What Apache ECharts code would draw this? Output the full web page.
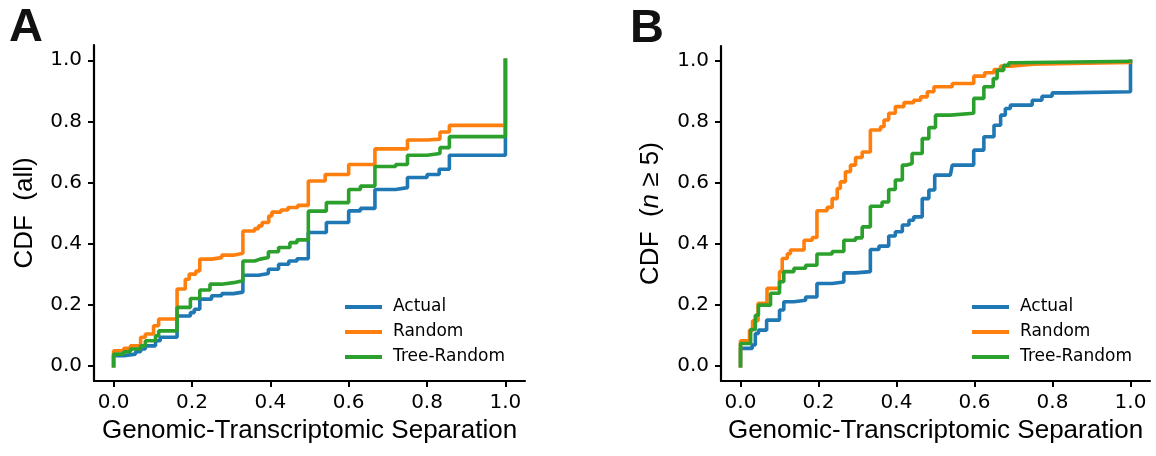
<!DOCTYPE html>
<html>
<head>
<meta charset="utf-8">
<title>CDF of genomic-transcriptomic separation</title>
<script src="https://cdn.jsdelivr.net/npm/echarts@6/dist/echarts.min.js"></script>
<style>
  html, body { margin: 0; padding: 0; background: #fff; }
  #cdfChart { width: 1156px; height: 456px; }
</style>
</head>
<body>
<div id="cdfChart"></div>
<script>
  // tick positions shared by both panels
  var tickValues = [0, 0.2, 0.4, 0.6, 0.8, 1.0];
  var seriesNames = ['Actual', 'Random', 'Tree-Random'];

  // panel A: all, [separation, cdf] step points (value holds to the right)
  var allActual = [[0,0],[0,0.033],[0.026,0.038],[0.056,0.046],[0.069,0.055],[0.081,0.065],[0.107,0.082],[0.119,0.093],
    [0.162,0.163],[0.196,0.174],[0.206,0.185],[0.22,0.218],[0.25,0.229],[0.276,0.236],[0.306,0.241],[0.33,0.296],
    [0.37,0.302],[0.395,0.316],[0.421,0.332],[0.447,0.343],[0.468,0.35],[0.497,0.436],[0.543,0.469],[0.6,0.507],
    [0.63,0.515],[0.667,0.577],[0.72,0.583],[0.75,0.616],[0.8,0.626],[0.831,0.643],[0.857,0.689],[1,1]];
  var allRandom = [[0,0],[0,0.049],[0.026,0.057],[0.043,0.065],[0.069,0.093],[0.081,0.104],[0.102,0.131],[0.115,0.153],
    [0.162,0.251],[0.183,0.283],[0.193,0.3],[0.21,0.31],[0.22,0.349],[0.25,0.354],[0.276,0.362],[0.306,0.368],
    [0.33,0.441],[0.36,0.449],[0.37,0.458],[0.379,0.469],[0.396,0.49],[0.404,0.503],[0.427,0.51],[0.445,0.518],
    [0.47,0.525],[0.497,0.605],[0.54,0.626],[0.6,0.659],[0.667,0.71],[0.75,0.739],[0.8,0.742],[0.833,0.765],
    [0.857,0.787],[1,1]];
  var allTree = [[0,0],[0,0.038],[0.026,0.046],[0.043,0.055],[0.069,0.065],[0.081,0.082],[0.107,0.098],[0.115,0.114],
    [0.162,0.191],[0.196,0.22],[0.22,0.248],[0.246,0.267],[0.276,0.272],[0.306,0.278],[0.33,0.343],[0.36,0.349],
    [0.374,0.354],[0.395,0.373],[0.421,0.387],[0.45,0.403],[0.468,0.412],[0.497,0.506],[0.543,0.534],[0.6,0.577],
    [0.63,0.588],[0.667,0.652],[0.72,0.659],[0.75,0.689],[0.8,0.695],[0.833,0.714],[0.857,0.75],[1,1]];

  // panel B: n >= 5
  var bigActual = [[0,0],[0,0.057],[0.03,0.068],[0.038,0.106],[0.046,0.117],[0.067,0.15],[0.1,0.183],[0.111,0.21],
    [0.137,0.215],[0.167,0.226],[0.196,0.27],[0.235,0.275],[0.265,0.305],[0.295,0.309],[0.333,0.382],[0.355,0.393],
    [0.38,0.426],[0.397,0.44],[0.415,0.462],[0.432,0.478],[0.444,0.489],[0.466,0.549],[0.483,0.577],[0.498,0.626],
    [0.538,0.631],[0.543,0.659],[0.598,0.708],[0.624,0.752],[0.65,0.79],[0.667,0.823],[0.679,0.845],[0.692,0.856],
    [0.748,0.872],[0.773,0.885],[0.799,0.896],[0.833,0.9],[1,1]];
  var bigRandom = [[0,0],[0,0.082],[0.023,0.117],[0.031,0.148],[0.045,0.205],[0.068,0.254],[0.1,0.309],[0.107,0.352],
    [0.12,0.368],[0.128,0.38],[0.163,0.412],[0.184,0.421],[0.196,0.509],[0.222,0.52],[0.235,0.549],[0.248,0.582],
    [0.256,0.604],[0.269,0.637],[0.282,0.659],[0.295,0.684],[0.312,0.702],[0.333,0.774],[0.359,0.785],[0.368,0.807],
    [0.38,0.829],[0.397,0.851],[0.419,0.864],[0.444,0.872],[0.462,0.883],[0.479,0.9],[0.496,0.916],[0.543,0.927],
    [0.598,0.951],[0.626,0.962],[0.65,0.973],[0.667,0.984],[0.692,0.99],[0.75,0.993],[0.85,0.996],[1,1]];
  var bigTree = [[0,0],[0,0.073],[0.026,0.119],[0.038,0.166],[0.046,0.199],[0.077,0.238],[0.1,0.276],[0.111,0.309],
    [0.137,0.32],[0.167,0.33],[0.196,0.367],[0.235,0.375],[0.265,0.412],[0.295,0.42],[0.312,0.456],[0.333,0.524],
    [0.363,0.538],[0.38,0.579],[0.397,0.61],[0.415,0.659],[0.427,0.664],[0.44,0.697],[0.466,0.746],[0.483,0.782],
    [0.5,0.823],[0.538,0.829],[0.598,0.878],[0.624,0.916],[0.648,0.943],[0.658,0.97],[0.675,0.987],[0.688,0.995],
    [0.7,1],[1,1]];

  var colors = ['#1f77b4', '#ff7f0e', '#2ca02c'];
  var tickFont = 'DejaVu Sans';
  var labelFont = '"Liberation Sans", Arial, Helvetica, sans-serif';

  function makeX(idx) {
    return {
      type: 'value', gridIndex: idx, min: -0.05, max: 1.05,
      name: 'Genomic-Transcriptomic Separation', nameLocation: 'middle', nameGap: 35,
      nameTextStyle: { fontFamily: labelFont, fontSize: 26, color: '#000' },
      splitLine: { show: false },
      axisLine: { onZero: false, lineStyle: { color: '#000', width: 2.2 } },
      axisTick: { customValues: tickValues, length: 6, lineStyle: { color: '#000', width: 2 } },
      axisLabel: { customValues: tickValues, margin: 12, fontFamily: tickFont, fontSize: 20, color: '#000',
        formatter: function (v) { return v.toFixed(1); } }
    };
  }

  function makeY(idx, name, gap) {
    return {
      type: 'value', gridIndex: idx, min: -0.05, max: 1.05,
      name: name, nameLocation: 'middle', nameGap: gap,
      nameTextStyle: { fontFamily: labelFont, fontSize: 26, color: '#000',
        rich: { i: { fontFamily: labelFont, fontSize: 26, fontStyle: 'italic', color: '#000' } } },
      splitLine: { show: false },
      axisLine: { onZero: false, lineStyle: { color: '#000', width: 2.2 } },
      axisTick: { customValues: tickValues, length: 6, lineStyle: { color: '#000', width: 2 } },
      axisLabel: { customValues: tickValues, margin: 12, fontFamily: tickFont, fontSize: 20, color: '#000',
        formatter: function (v) { return v.toFixed(1); } }
    };
  }

  function makeSeries(name, data, idx, color) {
    return {
      name: name, type: 'line', step: 'end', data: data,
      xAxisIndex: idx, yAxisIndex: idx,
      symbol: 'none', showSymbol: false, silent: true,
      itemStyle: { color: color },
      lineStyle: { color: color, width: 3.6, cap: 'square' }
    };
  }

  function makeLegend(left) {
    return {
      data: seriesNames, orient: 'vertical', left: left, top: 297, padding: 0,
      icon: 'rect', itemWidth: 37, itemHeight: 4, itemGap: 5,
      textStyle: { fontFamily: tickFont, fontSize: 17, lineHeight: 20, color: '#000', padding: [0, 0, 0, 6] }
    };
  }

  var chart = echarts.init(document.getElementById('cdfChart'), null, { renderer: 'canvas' });
  chart.setOption({
    animation: false,
    backgroundColor: '#fff',
    grid: [
      { left: 94, top: 45, width: 431, height: 336 },
      { left: 721, top: 46, width: 429, height: 335 }
    ],
    xAxis: [makeX(0), makeX(1)],
    yAxis: [makeY(0, 'CDF  (all)', 56), makeY(1, 'CDF  ({i|n} ≥ 5)', 57)],
    legend: [makeLegend(345), makeLegend(972)],
    graphic: [
      { type: 'text', left: 9, top: 5, style: { text: 'A', font: 'bold 47px ' + labelFont, fill: '#111' } },
      { type: 'text', left: 630, top: 6, style: { text: 'B', font: 'bold 47px ' + labelFont, fill: '#111' } }
    ],
    series: [
      makeSeries('Actual', allActual, 0, colors[0]),
      makeSeries('Random', allRandom, 0, colors[1]),
      makeSeries('Tree-Random', allTree, 0, colors[2]),
      makeSeries('Actual', bigActual, 1, colors[0]),
      makeSeries('Random', bigRandom, 1, colors[1]),
      makeSeries('Tree-Random', bigTree, 1, colors[2])
    ]
  });
</script>
</body>
</html>
